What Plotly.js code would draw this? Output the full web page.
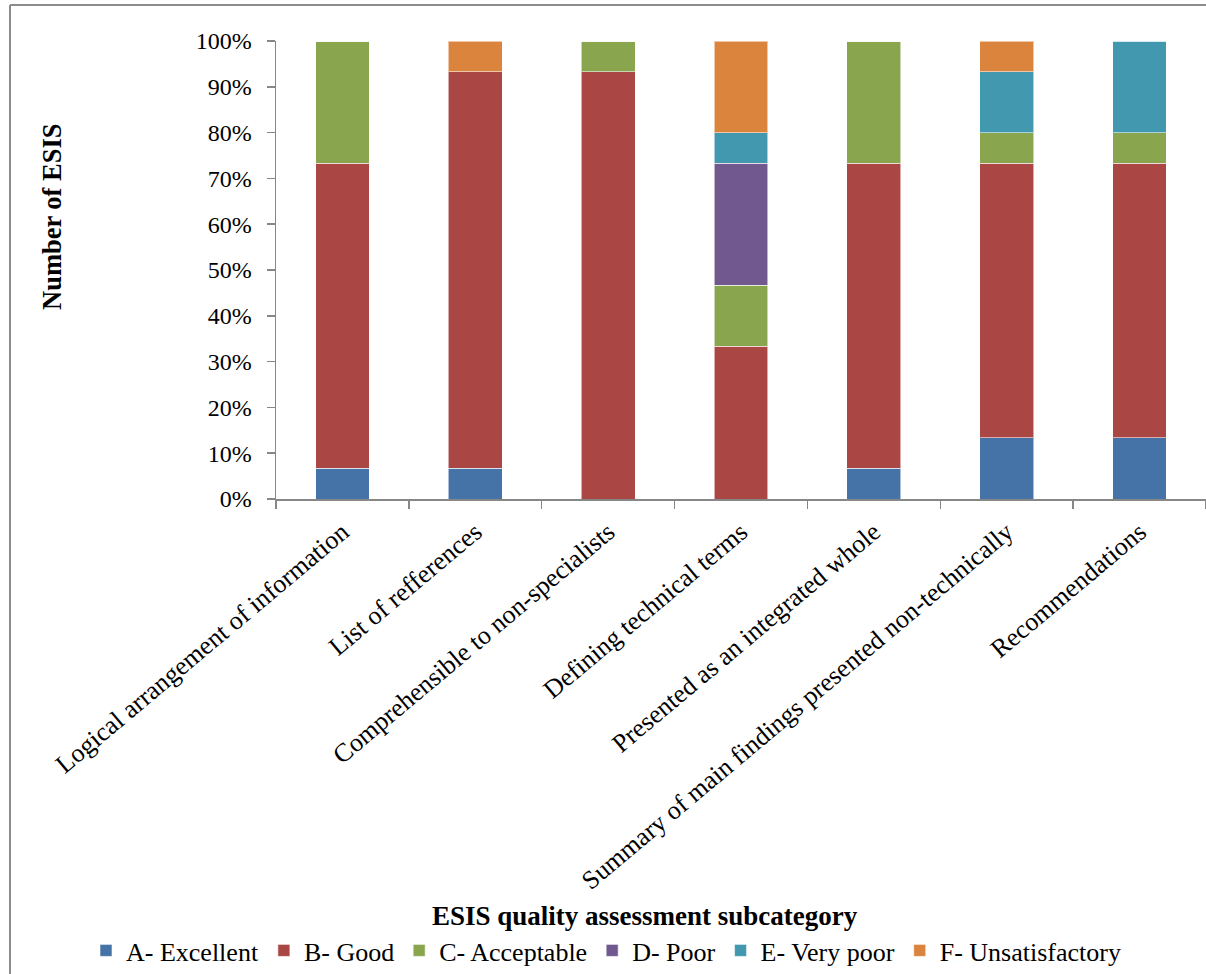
<!DOCTYPE html>
<html>
<head>
<meta charset="utf-8">
<script src="https://cdn.plot.ly/plotly-3.0.1.min.js"></script>
<style>
  html, body { margin: 0; padding: 0; background: #ffffff; }
  #chart { width: 1206px; height: 974px; }
</style>
</head>
<body>
<div id="chart"></div>
<script>
// Subcategories assessed (x axis)
const categories = [
  "Logical arrangement of information",
  "List of refferences",
  "Comprehensible to non-specialists",
  "Defining technical terms",
  "Presented as an integrated whole",
  "Summary of main findings presented non-technically",
  "Recommendations"
];

// Number of ESIS in each grade, per subcategory (15 statements in total)
const gradeA = [1, 1, 0, 0, 1, 2, 2];
const gradeB = [10, 13, 14, 5, 10, 9, 9];
const gradeC = [4, 0, 1, 2, 4, 1, 1];
const gradeD = [0, 0, 0, 4, 0, 0, 0];
const gradeE = [0, 0, 0, 1, 0, 2, 3];
const gradeF = [0, 1, 0, 3, 0, 1, 0];

const gradeNames = ["A- Excellent", "B- Good", "C- Acceptable", "D- Poor", "E- Very poor", "F- Unsatisfactory"];
const gradeColors = ["#4572A7", "#AA4643", "#89A54E", "#71588F", "#4198AF", "#DB843D"];
const gradeValues = [gradeA, gradeB, gradeC, gradeD, gradeE, gradeF];

const serif = "Liberation Serif, Times New Roman, serif";
const axisGrey = "#878787";

const traces = gradeValues.map((vals, i) => ({
  type: "bar",
  name: gradeNames[i],
  x: categories,
  y: vals,
  marker: { color: gradeColors[i], line: { color: "rgba(255,255,255,0.55)", width: 1 } },
  hoverinfo: "x+y+name"
}));

// Plot area: 276..1206 px horizontally, 41..499 px vertically
const W = 1206, H = 974, L = 276, T = 41, B = 499;
const pw = W - L, ph = B - T;
const px = v => (v - L) / pw;
const py = v => (B - v) / ph;

const layout = {
  width: W,
  height: H,
  margin: { l: L, r: 0, t: T, b: H - B, pad: 0 },
  paper_bgcolor: "#ffffff",
  plot_bgcolor: "#ffffff",
  barmode: "stack",
  barnorm: "percent",
  bargap: 0.595,
  showlegend: true,
  font: { family: serif, color: "#000000" },
  xaxis: {
    type: "category",
    tickangle: -40,
    tickson: "boundaries",
    ticks: "outside",
    ticklen: 8,
    tickwidth: 1.5,
    tickcolor: axisGrey,
    showline: true,
    linecolor: axisGrey,
    linewidth: 1.5,
    showgrid: false,
    zeroline: false,
    automargin: false,
    ticklabelstandoff: 6,
    tickfont: { family: serif, size: 26, color: "#000000" }
  },
  yaxis: {
    range: [0, 100],
    dtick: 10,
    ticksuffix: "%",
    ticks: "outside",
    ticklen: 8,
    tickwidth: 1.5,
    tickcolor: axisGrey,
    showline: true,
    linecolor: axisGrey,
    linewidth: 1.5,
    showgrid: false,
    zeroline: false,
    automargin: false,
    ticklabelstandoff: 10,
    tickfont: { family: serif, size: 24, color: "#000000" }
  },
  legend: {
    orientation: "h",
    traceorder: "normal",
    x: px(86),
    xanchor: "left",
    y: py(951),
    yanchor: "middle",
    font: { family: serif, size: 26, color: "#000000" },
    itemclick: false,
    itemdoubleclick: false
  },
  annotations: [
    {
      text: "<b>ESIS quality assessment subcategory</b>",
      xref: "paper", yref: "paper",
      x: px(645), y: py(916),
      xanchor: "center", yanchor: "middle",
      showarrow: false,
      font: { family: serif, size: 27, color: "#000000" }
    },
    {
      text: "<b>Number of ESIS</b>",
      xref: "paper", yref: "paper",
      x: px(52), y: py(217),
      xanchor: "center", yanchor: "middle",
      textangle: -90,
      showarrow: false,
      font: { family: serif, size: 26.5, color: "#000000" }
    }
  ],
  shapes: [
    // outer frame (left and top edges)
    { type: "line", xref: "paper", yref: "paper", layer: "above",
      x0: px(10), x1: px(10), y0: py(5), y1: py(H + 5),
      line: { color: "#8c8c8c", width: 2 } },
    { type: "line", xref: "paper", yref: "paper", layer: "above",
      x0: px(10), x1: px(W + 5), y0: py(5), y1: py(5),
      line: { color: "#8c8c8c", width: 2 } }
  ]
};

Plotly.newPlot("chart", traces, layout, { displayModeBar: false, staticPlot: true });
</script>
</body>
</html>
